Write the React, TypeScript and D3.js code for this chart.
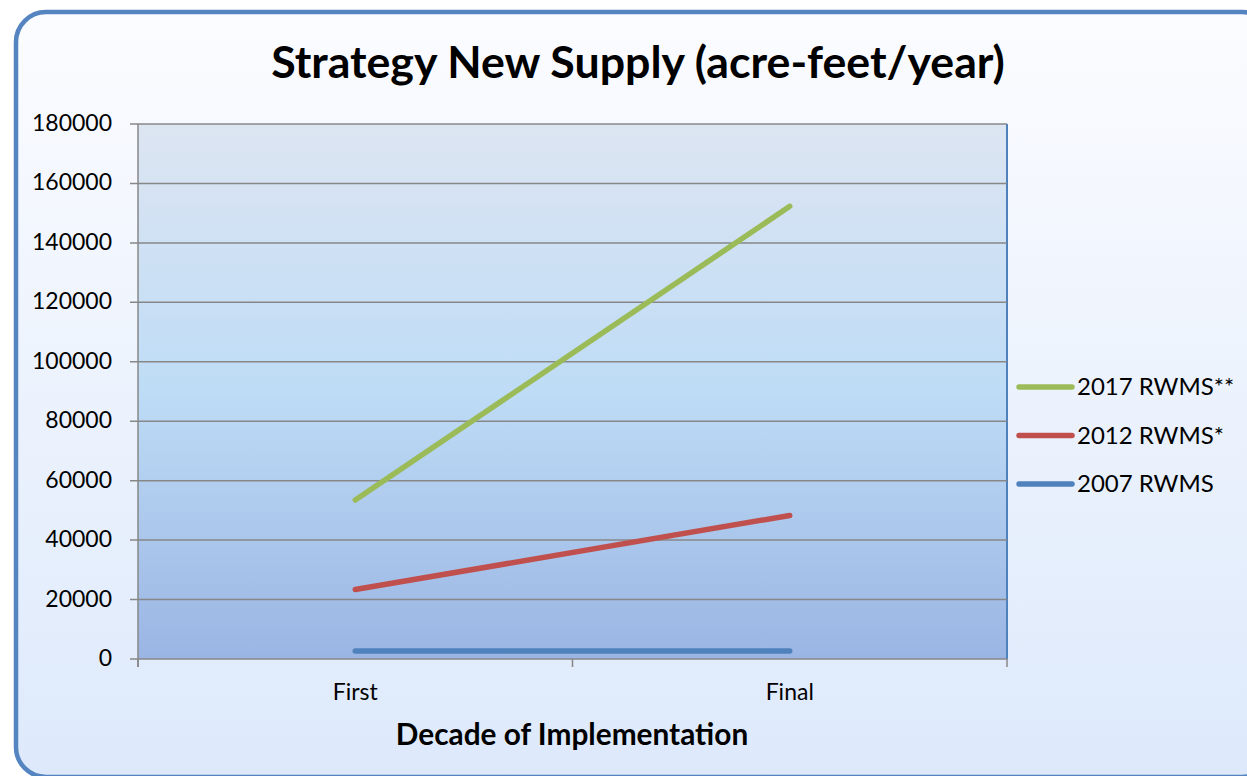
import { scaleLinear, scalePoint, line } from "d3";

const categories = ["First", "Final"];
const seriesNames = ["2017 RWMS**", "2012 RWMS*", "2007 RWMS"];
const supply2017 = [53500, 152300];
const supply2012 = [23400, 48300];
const supply2007 = [2700, 2700];
const yTicks = [0, 20000, 40000, 60000, 80000, 100000, 120000, 140000, 160000, 180000];

const colors = ["#9bbb59", "#c0504d", "#4f81bd"];
const font = "Lato, 'Open Sans', sans-serif";

export default function App() {
  const width = 1247;
  const height = 776;
  const plot = { left: 138, right: 1007, top: 124, bottom: 659 };

  const y = scaleLinear().domain([0, 180000]).range([plot.bottom, plot.top]);
  const x = scalePoint<string>().domain(categories).range([plot.left, plot.right]).padding(0.5);
  const series = [supply2017, supply2012, supply2007];
  const path = line<number>()
    .x((_, i) => x(categories[i]) ?? 0)
    .y((d) => y(d));
  const catTicks = [plot.left, (plot.left + plot.right) / 2, plot.right];

  return (
    <svg width={width} height={height} style={{ position: "absolute", left: 0, top: 0 }}>
      <defs>
        <linearGradient id="outerBg" x1="0" y1="0" x2="0" y2="1">
          <stop offset="0" stopColor="#fbfcff" />
          <stop offset="1" stopColor="#dde9fb" />
        </linearGradient>
        <linearGradient id="plotBg" x1="0" y1="0" x2="0" y2="1">
          <stop offset="0" stopColor="#dde5f2" />
          <stop offset="0.5" stopColor="#bedcf6" />
          <stop offset="1" stopColor="#9ab5e3" />
        </linearGradient>
      </defs>
      <rect x={0} y={0} width={width} height={height} fill="#ffffff" />
      <rect x={16} y={12} width={1256} height={765} rx={30} fill="url(#outerBg)" stroke="#5585c0" strokeWidth={4.5} />

      <text x={638} y={78} textAnchor="middle" fontFamily={font} fontWeight="bold" fontSize={44.7} fill="#000">
        Strategy New Supply (acre-feet/year)
      </text>

      <rect x={plot.left} y={plot.top} width={plot.right - plot.left} height={plot.bottom - plot.top} fill="url(#plotBg)" />
      <line x1={plot.right} x2={plot.right} y1={plot.top} y2={plot.bottom} stroke="#4f81bd" strokeWidth={2} />

      {yTicks.map((t) => (
        <g key={t}>
          <line x1={plot.left - 8} x2={plot.right} y1={y(t)} y2={y(t)} stroke="#878787" strokeWidth={1.5} />
          <text x={112} y={y(t) + 7} textAnchor="end" fontFamily={font} fontSize={23} fill="#000">
            {t}
          </text>
        </g>
      ))}
      <line x1={plot.left} x2={plot.left} y1={plot.top} y2={plot.bottom + 8} stroke="#878787" strokeWidth={1.5} />
      {catTicks.map((cx) => (
        <line key={cx} x1={cx} x2={cx} y1={plot.bottom} y2={plot.bottom + 8} stroke="#878787" strokeWidth={1.5} />
      ))}
      {categories.map((c) => (
        <text key={c} x={x(c)} y={700} textAnchor="middle" fontFamily={font} fontSize={23} fill="#000">
          {c}
        </text>
      ))}
      <text x={572} y={745} textAnchor="middle" fontFamily={font} fontWeight="bold" fontSize={29.8} fill="#000">
        Decade of Implementation
      </text>

      {series.map((s, i) => (
        <path key={seriesNames[i]} d={path(s) ?? ""} fill="none" stroke={colors[i]} strokeWidth={5.5} strokeLinecap="round" />
      ))}

      {seriesNames.map((name, i) => {
        const ly = 387 + i * 48.5;
        return (
          <g key={name}>
            <line x1={1019} x2={1072} y1={ly} y2={ly} stroke={colors[i]} strokeWidth={5.5} strokeLinecap="round" />
            <text x={1077} y={ly + 8} fontFamily={font} fontSize={24} fill="#000">
              {name}
            </text>
          </g>
        );
      })}
    </svg>
  );
}
